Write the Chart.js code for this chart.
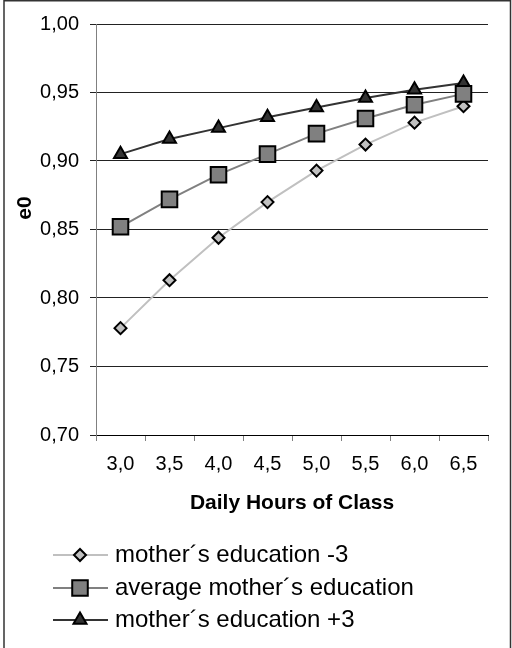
<!DOCTYPE html>
<html>
<head>
<meta charset="utf-8">
<script src="https://cdn.jsdelivr.net/npm/chart.js@4/dist/chart.umd.min.js"></script>
<style>
  html, body { margin: 0; padding: 0; background: #fff; }
  #wrap { position: relative; width: 512px; height: 648px; }
</style>
</head>
<body>
<div id="wrap"><canvas id="c" width="512" height="648"></canvas></div>
<script>
// Daily hours of class on the x axis
const hours = ['3,0', '3,5', '4,0', '4,5', '5,0', '5,5', '6,0', '6,5'];

// e0 for each mother's education scenario
const eduMinus3 = [0.778, 0.813, 0.844, 0.870, 0.893, 0.912, 0.928, 0.940];
const eduAverage = [0.852, 0.872, 0.890, 0.905, 0.920, 0.931, 0.941, 0.949];
const eduPlus3 = [0.905, 0.916, 0.924, 0.932, 0.939, 0.946, 0.952, 0.957];

const seriesNames = ['mother\u00b4s education -3', 'average mother\u00b4s education', 'mother\u00b4s education +3'];

const yTicks = [0.70, 0.75, 0.80, 0.85, 0.90, 0.95, 1.00];

const FONT = '"Liberation Sans", Arial, sans-serif';

const fmt = v => v.toFixed(2).replace('.', ',');

// Frame, y-axis title, x-axis title and the line+marker legend
const decorations = {
  id: 'decorations',
  afterDraw(chart) {
    const { ctx, chartArea } = chart;
    ctx.save();
    // outer frame
    ctx.strokeStyle = '#333';
    ctx.lineWidth = 1.5;
    ctx.strokeRect(4, 0.75, 506.5, 700);

    ctx.fillStyle = '#000';
    // y title
    ctx.save();
    ctx.translate(25, 208);
    ctx.rotate(-Math.PI / 2);
    ctx.font = 'bold 21px ' + FONT;
    ctx.textAlign = 'center';
    ctx.textBaseline = 'middle';
    ctx.fillText('e0', 0, 0);
    ctx.restore();

    // x title
    ctx.font = 'bold 21px ' + FONT;
    ctx.textAlign = 'center';
    ctx.textBaseline = 'middle';
    ctx.fillText('Daily Hours of Class', (chartArea.left + chartArea.right) / 2, 503);

    // legend
    const rowY = [555, 588, 620];
    chart.data.datasets.forEach((ds, i) => {
      const y = rowY[i];
      ctx.strokeStyle = ds.borderColor;
      ctx.lineWidth = ds.borderWidth;
      ctx.beginPath();
      ctx.moveTo(53, y);
      ctx.lineTo(108, y);
      ctx.stroke();
      ctx.fillStyle = ds.pointBackgroundColor;
      ctx.strokeStyle = ds.pointBorderColor;
      ctx.lineWidth = ds.pointBorderWidth;
      Chart.helpers.drawPoint(ctx, {
        pointStyle: ds.pointStyle,
        radius: ds.pointRadius,
        rotation: 0,
        borderWidth: ds.pointBorderWidth
      }, 80, y);
      ctx.fillStyle = '#000';
      ctx.font = '24px ' + FONT;
      ctx.textAlign = 'left';
      ctx.textBaseline = 'middle';
      ctx.fillText(ds.label, 115, y);
    });
    ctx.restore();
  }
};

const makeSeries = (label, data, line, fill, style, radius, order) => ({
  label, data, order,
  borderColor: line,
  borderWidth: 2,
  pointStyle: style,
  pointRadius: radius,
  pointHoverRadius: radius,
  pointBackgroundColor: fill,
  pointBorderColor: '#000',
  pointBorderWidth: 2,
  tension: 0,
  fill: false
});

new Chart(document.getElementById('c'), {
  type: 'line',
  data: {
    labels: hours,
    datasets: [
      makeSeries(seriesNames[0], eduMinus3, '#c0c0c0', '#c0c0c0', 'rectRot', 6, 2),
      makeSeries(seriesNames[1], eduAverage, '#808080', '#808080', 'rect', 11, 0),
      makeSeries(seriesNames[2], eduPlus3, '#333333', '#333333', 'triangle', 7.5, 1)
    ]
  },
  options: {
    responsive: false,
    animation: false,
    devicePixelRatio: 1,
    layout: { padding: { left: 0, top: 24, right: 24, bottom: 0 } },
    plugins: { legend: { display: false }, tooltip: { enabled: false } },
    scales: {
      x: {
        type: 'category',
        offset: true,
        grid: {
          offset: true,
          drawOnChartArea: false,
          drawTicks: true,
          tickLength: 6,
          tickColor: '#808080'
        },
        border: { color: '#000', width: 1 },
        ticks: {
          color: '#000',
          padding: 11,
          maxRotation: 0,
          autoSkip: false,
          font: { family: FONT, size: 20 }
        },
        afterFit(scale) {
          scale.height = 213;
          scale.paddingLeft = 0;
          scale.paddingRight = 0;
        }
      },
      y: {
        min: 0.70,
        max: 1.00,
        afterBuildTicks(scale) {
          scale.ticks = yTicks.map(v => ({ value: v }));
        },
        grid: {
          color: '#222',
          lineWidth: 1,
          drawTicks: true,
          tickLength: 6,
          tickColor: '#222'
        },
        border: { color: '#808080', width: 1 },
        ticks: {
          color: '#000',
          padding: 11,
          font: { family: FONT, size: 20 },
          callback: v => fmt(v)
        },
        afterFit(scale) {
          scale.width = 96;
          scale.paddingTop = 0;
          scale.paddingBottom = 0;
        }
      }
    }
  },
  plugins: [decorations]
});
</script>
</body>
</html>
